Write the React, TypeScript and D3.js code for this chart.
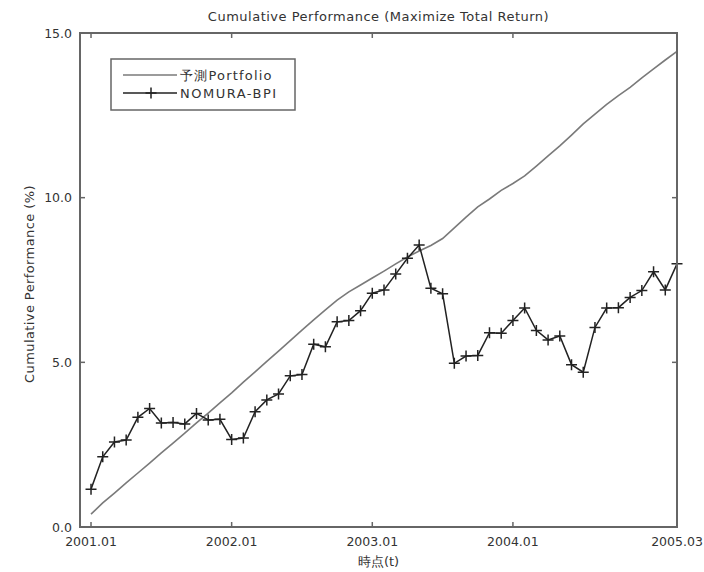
import React from "react";
import * as d3 from "d3";

// Monthly observations, 2001.01 through 2005.03 (51 months)
const portfolio: number[] = [
  0.39, 0.73, 1.03, 1.34, 1.64, 1.94, 2.25, 2.55, 2.85, 3.16,
  3.46, 3.77, 4.07, 4.40, 4.71, 5.03, 5.34, 5.66, 5.98, 6.29,
  6.59, 6.89, 7.14, 7.35, 7.56, 7.77, 7.99, 8.20, 8.38, 8.55,
  8.76, 9.08, 9.41, 9.72, 9.96, 10.22, 10.43, 10.66, 10.96, 11.27,
  11.57, 11.90, 12.24, 12.54, 12.83, 13.10, 13.35, 13.64, 13.91, 14.18,
  14.44,
];

const nomuraBpi: number[] = [
  1.15, 2.13, 2.58, 2.64, 3.33, 3.60, 3.16, 3.17, 3.13, 3.45,
  3.25, 3.27, 2.66, 2.70, 3.50, 3.86, 4.04, 4.59, 4.63, 5.55,
  5.47, 6.23, 6.27, 6.57, 7.10, 7.20, 7.68, 8.16, 8.56, 7.25,
  7.08, 4.97, 5.19, 5.21, 5.90, 5.88, 6.27, 6.65, 5.97, 5.68,
  5.80, 4.93, 4.70, 6.06, 6.65, 6.66, 6.97, 7.18, 7.75, 7.20,
  7.99,
];

const xTickIndex: number[] = [0, 12, 24, 36, 50];
const xTickLabels: string[] = ["2001.01", "2002.01", "2003.01", "2004.01", "2005.03"];
const yTicks: number[] = [0, 5, 10, 15];

const seriesNames: string[] = ["予測Portfolio", "NOMURA-BPI"];

const W = 704;
const H = 572;
const plot = { left: 80, right: 677, top: 33, bottom: 527 };
const FONT = "'DejaVu Sans', sans-serif";
const TEXT = "#333";
const AXIS = "#666";

export default function App() {
  const x = d3.scaleLinear().domain([-0.94, 50]).range([plot.left, plot.right]);
  const y = d3.scaleLinear().domain([0, 15]).range([plot.bottom, plot.top]);

  const line = d3
    .line<number>()
    .x((_, i) => x(i))
    .y((d) => y(d));

  const tickLen = 5;
  const m = 5.5; // half size of the "+" marker

  return (
    <svg
      width={W}
      height={H}
      style={{ position: "absolute", left: 0, top: 0, background: "#fff" }}
      fontFamily={FONT}
    >
      <rect x={0} y={0} width={W} height={H} fill="#fff" />

      {/* title */}
      <text
        x={(plot.left + plot.right) / 2}
        y={21}
        textAnchor="middle"
        fontSize={13}
        letterSpacing={0.5}
        fill={TEXT}
      >
        Cumulative Performance (Maximize Total Return)
      </text>

      {/* series */}
      <path d={line(portfolio) || ""} fill="none" stroke="#7a7a7a" strokeWidth={1.6} />
      <path d={line(nomuraBpi) || ""} fill="none" stroke="#222" strokeWidth={1.5} />
      {nomuraBpi.map((d, i) => (
        <path
          key={i}
          d={`M${x(i) - m},${y(d)}H${x(i) + m}M${x(i)},${y(d) - m}V${y(d) + m}`}
          stroke="#222"
          strokeWidth={1.5}
          fill="none"
        />
      ))}

      {/* axes box */}
      <rect
        x={plot.left}
        y={plot.top}
        width={plot.right - plot.left}
        height={plot.bottom - plot.top}
        fill="none"
        stroke={AXIS}
        strokeWidth={2}
      />

      {/* x ticks (inward, top and bottom) */}
      {xTickIndex.map((t, i) => (
        <g key={"xt" + i}>
          <line x1={x(t)} x2={x(t)} y1={plot.bottom} y2={plot.bottom - tickLen} stroke={AXIS} strokeWidth={1.5} />
          <line x1={x(t)} x2={x(t)} y1={plot.top} y2={plot.top + tickLen} stroke={AXIS} strokeWidth={1.5} />
          <text
            x={x(t)}
            y={546}
            textAnchor="middle"
            fontSize={12.5}
            fill={TEXT}
          >
            {xTickLabels[i]}
          </text>
        </g>
      ))}

      {/* y ticks (inward, left and right) */}
      {yTicks.map((t) => (
        <g key={"yt" + t}>
          <line x1={plot.left} x2={plot.left + tickLen} y1={y(t)} y2={y(t)} stroke={AXIS} strokeWidth={1.5} />
          <line x1={plot.right} x2={plot.right - tickLen} y1={y(t)} y2={y(t)} stroke={AXIS} strokeWidth={1.5} />
          <text
            x={72}
            y={y(t) + 4.5}
            textAnchor="end"
            fontSize={12.5}
            fill={TEXT}
          >
            {t.toFixed(1)}
          </text>
        </g>
      ))}

      {/* axis labels */}
      <text x={(plot.left + plot.right) / 2} y={566} textAnchor="middle" fontSize={13} fill={TEXT}>
        時点(t)
      </text>
      <text
        transform={`translate(34,${(plot.top + plot.bottom) / 2 + 4}) rotate(-90)`}
        textAnchor="middle"
        fontSize={13}
        letterSpacing={0.4}
        fill={TEXT}
      >
        Cumulative Performance (%)
      </text>

      {/* legend */}
      <g>
        <rect x={111} y={59} width={184} height={51} fill="#fff" stroke={AXIS} strokeWidth={1.5} />
        <line x1={123} x2={177} y1={75} y2={75} stroke="#7a7a7a" strokeWidth={1.6} />
        <text x={180} y={80} fontSize={13} letterSpacing={1.2} fill={TEXT}>
          {seriesNames[0]}
        </text>
        <line x1={123} x2={177} y1={93} y2={93} stroke="#222" strokeWidth={1.5} />
        <path d={`M${151 - m},93H${151 + m}M151,${93 - m}V${93 + m}`} stroke="#222" strokeWidth={1.5} />
        <text x={180} y={98} fontSize={13} letterSpacing={1.5} fill={TEXT}>
          {seriesNames[1]}
        </text>
      </g>
    </svg>
  );
}
